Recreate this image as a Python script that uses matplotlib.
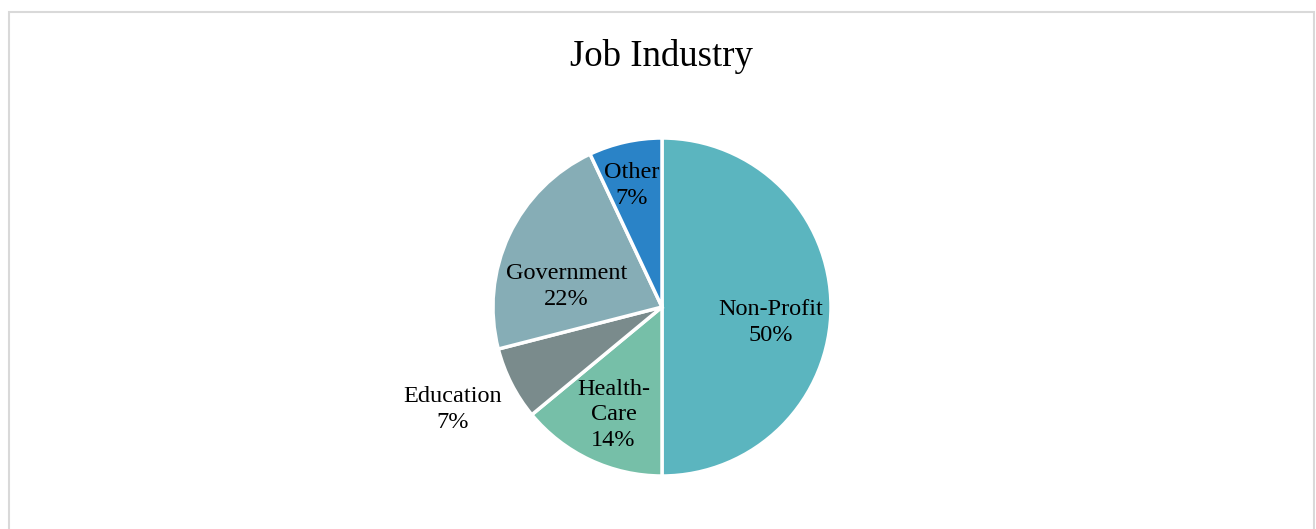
import numpy as np
import matplotlib.pyplot as plt
from matplotlib.patches import Rectangle

plt.rcParams['font.family'] = ['Liberation Serif', 'DejaVu Serif']

# job industry shares, in percent
industries = ['Non-Profit', 'Health-\nCare', 'Education', 'Government', 'Other']
shares = [50, 14, 7, 22, 7]
colors = ['#5BB5BF', '#76BFA8', '#7A8B8C', '#86ADB6', '#2A83C7']

# label placement: fraction of radius and small angle nudge (degrees)
label_dist = [0.65, 0.70, 1.38, 0.58, 0.74]
label_nudge = [-8, 1, -1, 13, 1.5]

W, H = 1316, 529
fig = plt.figure(figsize=(W / 100, H / 100), dpi=100)

# pie centred at (662, 307) px with radius 169 px
cx, cy, r = 662, 307, 169
ax = fig.add_axes([(cx - r) / W, (H - cy - r) / H, 2 * r / W, 2 * r / H])
wedges, _ = ax.pie(shares, colors=colors, startangle=90, counterclock=False,
                   radius=1, wedgeprops=dict(edgecolor='white', linewidth=2.5))
ax.set_xlim(-1, 1)
ax.set_ylim(-1, 1)
ax.set_aspect('equal')
ax.axis('off')

for w, name, pct, d, nudge in zip(wedges, industries, shares, label_dist, label_nudge):
    ang = np.deg2rad((w.theta1 + w.theta2) / 2 + nudge)
    ax.text(d * np.cos(ang), d * np.sin(ang), f'{name}\n{pct}%',
            ha='center', va='center', fontsize=17.5, linespacing=1.3,
            clip_on=False)

fig.text(661 / W, 1 - 56 / H, 'Job Industry', ha='center', va='center',
         fontsize=26.5)

# light chart-area border
fig.patches.append(Rectangle((9 / W, -0.05), 1305 / W, 1.05 - 12 / H,
                             transform=fig.transFigure, fill=False,
                             edgecolor='#D9D9D9', linewidth=1.5))

fig.savefig('out.png', dpi=100, facecolor='white')
